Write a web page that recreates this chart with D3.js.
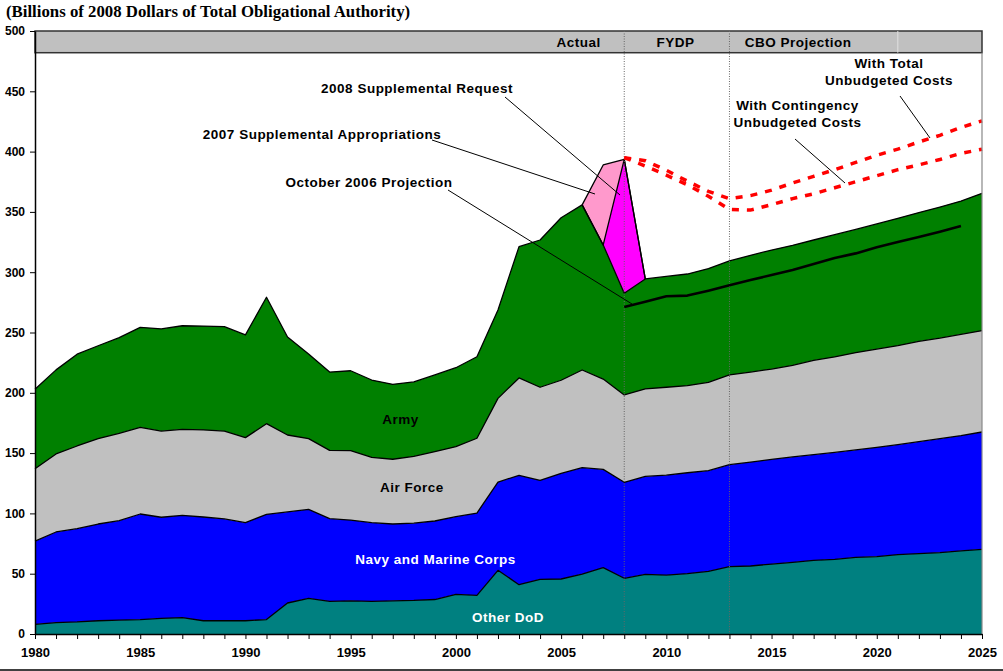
<!DOCTYPE html>
<html><head><meta charset="utf-8">
<script src="https://cdn.jsdelivr.net/npm/d3@7"></script>
<style>
body{margin:0;background:#fff}
svg{display:block}
text{font-family:"Liberation Sans",Arial,sans-serif;font-weight:bold}
</style>
</head><body>
<svg id="c" width="1003" height="671"></svg>
<script>
// ---------------- DATA ----------------
const years = [1980,1981,1982,1983,1984,1985,1986,1987,1988,1989,1990,1991,1992,1993,1994,1995,1996,1997,1998,1999,
  2000,2001,2002,2003,2004,2005,2006,2007,2008,2009,2010,2011,2012,2013,2014,2015,2016,2017,2018,2019,2020,2021,2022,2023,2024,2025];
const otherDoD = [8,9.5,10,11,11.5,12,13,13.5,11,11,11,12,25.7,29.6,27,27.5,27,27.5,27.8,28.6,
  32.9,32,52.8,40.9,45.3,45.6,49.7,55,46.2,49.5,48.8,50,52,55.8,56.4,58,59.4,61,61.9,63.6,64.2,65.8,66.6,67.5,69,70.2];
const navyMarineCorps = [69,75.1,77.3,80.2,82.5,87.5,83.8,84.9,86,84.4,81.3,87.2,75.5,73.8,68.6,67,65.3,63.7,64.1,65.1,
  64.4,68.3,73.2,90.7,82.1,87.6,88.2,81.5,79.6,81.2,82.9,83.7,83.4,84.6,86.2,86.8,87.4,87.7,88.7,89,90.6,91.2,92.9,94.5,95.5,97.3];
const airForce = [60,64.7,68.6,70.8,72.4,71.9,71.5,71.3,72.2,72.9,70.5,75.2,63.8,58.6,56.7,57.5,54.2,53.7,55.4,57.5,
  58,62,69.4,80.7,77.2,77.2,81,74.9,72.4,72.5,72.9,72.2,73.3,74.4,74.6,74.9,76,78.2,79.1,80.7,81.5,82.1,83.2,83.4,84,84];
const army = [66,69.7,76.1,77,79.3,82.9,84.7,85.9,86.1,86.5,85.2,104.8,81.3,70.2,64.9,66.3,64.1,62.1,61.7,63.6,
  65.5,67.6,73.3,108.9,122.1,134.8,136.9,111.2,84.3,91.2,91.9,92.6,94.3,94.5,96.8,98.7,99.5,99.8,101.4,102.2,103.7,105.6,106.7,108.6,110.5,113.9];
const suppYears = [2006,2007,2008,2009];
const supp2008Request = [0,0,111.1,0];
const supp2007Approp = [0,66.3,0,0];

const projYears = [2008,2009,2010,2011,2012,2013,2014,2015,2016,2017,2018,2019,2020,2021,2022,2023,2024];
const oct2006Projection = [271.1,275.5,280,280.6,284.7,289.1,293.5,297.7,301.8,306.8,311.8,315.6,320.6,325,329.2,333.6,338.3];

const unbudgetedYears = [2008,2009,2010,2011,2012,2013,2014,2015,2016,2017,2018,2019,2020,2021,2022,2023,2024,2025];
const withTotalUnbudgeted = [395,392.5,384.5,375.5,367,361,363.5,368,374,379.5,385,391,397,402,408,413.5,420,425.5];
const withContingencyUnbudgeted = [395,388,380.5,372.5,363,352,351.5,356,361,365,370,375,380,385,389,393.5,398.5,402];

const yTicks = [0,50,100,150,200,250,300,350,400,450,500];
const xLabelYears = [1980,1985,1990,1995,2000,2005,2010,2015,2020,2025];
const periodBreaks = [2008,2013];
const periodLabels = ["Actual","FYDP","CBO Projection"];

const seriesKeys = ["other","navy","af","army","s2008","s2007"];
const seriesColors = {other:"#008080",navy:"#0000ff",af:"#c0c0c0",army:"#008000",s2008:"#ff00ff",s2007:"#ff99cc"};

// ---------------- CHART ----------------
const svg = d3.select("#c");
const x = d3.scaleLinear().domain([1980,2025]).range([35,982]);
const y = d3.scaleLinear().domain([0,500]).range([634,31]);

const rows = years.map((yr,i)=>{
  const j = suppYears.indexOf(yr);
  return {year:yr, other:otherDoD[i], navy:navyMarineCorps[i], af:airForce[i], army:army[i],
    s2008: j>=0 ? supp2008Request[j] : 0, s2007: j>=0 ? supp2007Approp[j] : 0};
});
const stacked = d3.stack().keys(seriesKeys)(rows);

const area = d3.area().x(d=>x(d.data.year)).y0(d=>y(d[0])).y1(d=>y(d[1]));
const topLine = d3.line().x(d=>x(d.data.year)).y(d=>y(d[1]));

const gA = svg.append("g");
stacked.forEach(s=>{
  const pts = (s.key==="s2008"||s.key==="s2007") ? s.filter(d=>suppYears.includes(d.data.year)) : s;
  gA.append("path").attr("d",area(pts)).attr("fill",seriesColors[s.key]).attr("stroke","none");
});
stacked.forEach(s=>{
  const pts = (s.key==="s2008"||s.key==="s2007") ? s.filter(d=>suppYears.includes(d.data.year)) : s;
  gA.append("path").attr("d",topLine(pts)).attr("fill","none").attr("stroke","#000").attr("stroke-width",1.3).attr("stroke-linejoin","round");
});

// period break dotted lines
periodBreaks.forEach(b=>{
  svg.append("line").attr("x1",x(b)).attr("x2",x(b)).attr("y1",y(500)).attr("y2",y(0))
    .attr("stroke","#666").attr("stroke-width",1).attr("stroke-dasharray","1,1.5");
});

// October 2006 projection
const ln = d3.line().x(d=>x(d[0])).y(d=>y(d[1]));
svg.append("path").attr("d",ln(projYears.map((yr,i)=>[yr,oct2006Projection[i]])))
  .attr("fill","none").attr("stroke","#000").attr("stroke-width",2.6).attr("stroke-linejoin","round");

// unbudgeted cost lines
[withTotalUnbudgeted, withContingencyUnbudgeted].forEach(arr=>{
  svg.append("path").attr("d",ln(unbudgetedYears.map((yr,i)=>[yr,arr[i]])))
    .attr("fill","none").attr("stroke","#ff0000").attr("stroke-width",3.5).attr("stroke-dasharray","7,8");
});

// header band
svg.append("rect").attr("x",x(1980)).attr("y",y(500)).attr("width",x(2025)-x(1980)).attr("height",y(482)-y(500))
  .attr("fill","#c0c0c0").attr("stroke","#333").attr("stroke-width",1.5);
periodBreaks.forEach(b=>{
  svg.append("line").attr("x1",x(b)).attr("x2",x(b)).attr("y1",y(500)).attr("y2",y(482))
    .attr("stroke","#666").attr("stroke-width",1).attr("stroke-dasharray","1,1.5");
});
svg.append("line").attr("x1",x(2021)).attr("x2",x(2021)).attr("y1",y(500)).attr("y2",y(482))
  .attr("stroke","#e0e0e0").attr("stroke-width",1);
const headerPos = [2005.83,2010.44,2016.26];
periodLabels.forEach((t,i)=>{
  svg.append("text").attr("x",x(headerPos[i])).attr("y",46.5).attr("text-anchor","middle")
    .attr("font-size",13.5).attr("letter-spacing",0.5).text(t);
});

// right border
svg.append("line").attr("x1",x(2025)).attr("x2",x(2025)).attr("y1",y(482)).attr("y2",y(0))
  .attr("stroke","#888").attr("stroke-width",1.2);

// axes
const yAxis = svg.append("g").attr("transform",`translate(${x(1980)},0)`)
  .call(d3.axisLeft(y).tickValues(yTicks).tickSize(5).tickSizeOuter(0).tickPadding(5));
yAxis.selectAll("text").attr("font-size",12).attr("font-weight","bold").attr("fill","#000")
  .attr("font-family","Liberation Sans, Arial, sans-serif");
yAxis.select(".domain").attr("stroke-width",1.5);

const xAxis = svg.append("g").attr("transform",`translate(0,${y(0)})`)
  .call(d3.axisBottom(x).tickValues(years).tickSize(5).tickSizeOuter(0)
    .tickFormat(d=>xLabelYears.includes(d)?String(d):""));
xAxis.selectAll("text").attr("font-size",13).attr("font-weight","bold").attr("fill","#000")
  .attr("font-family","Liberation Sans, Arial, sans-serif").attr("dy",0).attr("y",23);
xAxis.select(".domain").attr("stroke-width",1.5);

// bottom frame line
svg.append("line").attr("x1",0).attr("x2",1003).attr("y1",670).attr("y2",670).attr("stroke","#000").attr("stroke-width",1.5);

// title
svg.append("text").attr("x",6).attr("y",17).attr("font-size",16.8)
  .style("font-family","'Liberation Serif','Times New Roman',serif").text("(Billions of 2008 Dollars of Total Obligational Authority)");

// series labels
const lab = (t,cx,by,col)=>svg.append("text").attr("x",cx).attr("y",by).attr("text-anchor","middle")
  .attr("font-size",13.5).attr("letter-spacing",0.5).attr("fill",col).text(t);
lab("Army",400.5,424,"#000");
lab("Air Force",412,492,"#000");
lab("Navy and Marine Corps",435.5,564,"#fff");
lab("Other DoD",508,621.5,"#fff");

// annotations
lab("2008 Supplemental Request",417,93,"#000");
lab("2007 Supplemental Appropriations",322,139,"#000");
lab("October 2006 Projection",369,187,"#000");
lab("With Contingency",797.5,110,"#000");
lab("Unbudgeted Costs",797.5,127,"#000");
lab("With Total",889,68,"#000");
lab("Unbudgeted Costs",889,85,"#000");

const leaders = [[505,97,620,195],[432,140,595,194],[448,190,632,304],[795,139,845,183],[900,96,930,138]];
leaders.forEach(l=>svg.append("line").attr("x1",l[0]).attr("y1",l[1]).attr("x2",l[2]).attr("y2",l[3])
  .attr("stroke","#000").attr("stroke-width",1));
</script>
</body></html>
